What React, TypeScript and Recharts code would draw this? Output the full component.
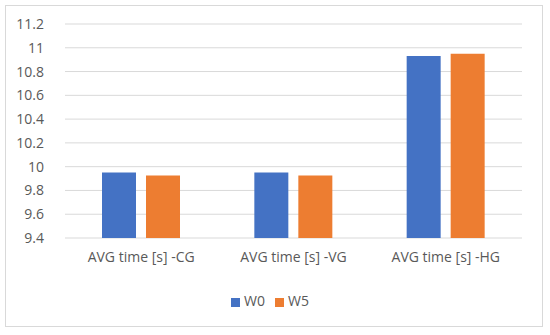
import React from "react";
import { BarChart, Bar, XAxis, YAxis, CartesianGrid, Legend } from "recharts";

const categories = ["AVG time [s] -CG", "AVG time [s] -VG", "AVG time [s] -HG"];
const w0Values = [9.95, 9.95, 10.93];
const w5Values = [9.925, 9.925, 10.95];
const yTicks = [9.4, 9.6, 9.8, 10, 10.2, 10.4, 10.6, 10.8, 11, 11.2];

const data = categories.map((c, i) => ({ name: c, W0: w0Values[i], W5: w5Values[i] }));

const FONT = "'Open Sans', 'Liberation Sans', sans-serif";
const TEXT = "#595959";

export default function App() {
  return (
    <div style={{ position: "absolute", left: 0, top: 0, width: 550, height: 335, background: "#fff" }}>
      <div
        style={{
          position: "absolute",
          left: 5,
          top: 5,
          width: 538,
          height: 322,
          border: "1px solid #d9d9d9",
          boxSizing: "border-box",
        }}
      />
      <BarChart
        width={550}
        height={335}
        data={data}
        margin={{ top: 24, right: 28, left: 0, bottom: 37 }}
        barGap={10}
        barSize={34}
        style={{ fontFamily: FONT }}
      >
        <CartesianGrid vertical={false} stroke="#d9d9d9" strokeWidth={1} />
        <XAxis
          dataKey="name"
          axisLine={false}
          tickLine={false}
          height={40}
          tick={{ fill: TEXT, fontSize: 14, fontFamily: FONT }}
          tickMargin={8}
          interval={0}
        />
        <YAxis
          type="number"
          domain={[9.4, 11.2]}
          ticks={yTicks}
          axisLine={false}
          tickLine={false}
          width={65}
          tick={{ fill: TEXT, fontSize: 14, fontFamily: FONT }}
          tickMargin={15}
          tickFormatter={(v: number) => String(Number(v.toFixed(1)))}
          allowDataOverflow
        />
        <Legend
          verticalAlign="bottom"
          iconType="square"
          iconSize={9}
          wrapperStyle={{ position: "absolute", top: 291, left: 0, width: 550, height: 20, fontSize: 14, fontFamily: FONT }}
          formatter={(value: string) => <span style={{ color: TEXT }}>{value}</span>}
        />
        <Bar dataKey="W0" fill="#4472C4" isAnimationActive={false} />
        <Bar dataKey="W5" fill="#ED7D31" isAnimationActive={false} />
      </BarChart>
    </div>
  );
}
